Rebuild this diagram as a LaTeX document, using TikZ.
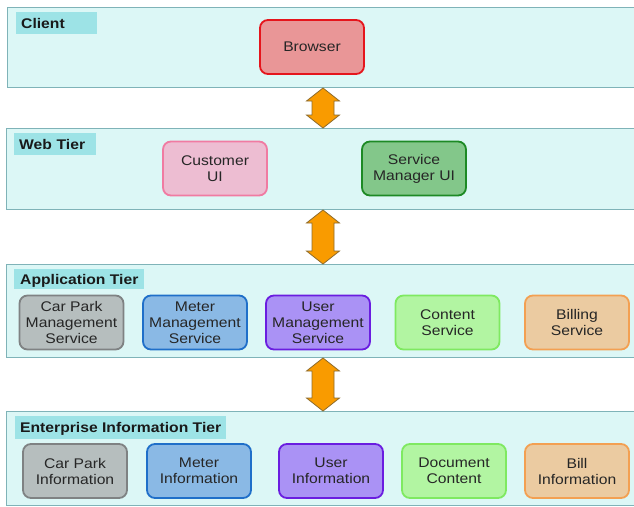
\documentclass[tikz,border=0pt]{standalone}
\usepackage{fontspec}
\setmainfont{Liberation Sans}[FakeStretch=1.12]
\usetikzlibrary{calc}

% tier panels
\definecolor{tierfill}{HTML}{DCF7F6}
\definecolor{tierline}{HTML}{7FB3B8}
\definecolor{labelfill}{HTML}{9DE3E6}
% component colours (fill / border)
\definecolor{redF}{HTML}{E99697}\definecolor{redD}{HTML}{E5151C}
\definecolor{pinkF}{HTML}{EDBDD2}\definecolor{pinkD}{HTML}{F07BA2}
\definecolor{dgrnF}{HTML}{83C78A}\definecolor{dgrnD}{HTML}{1D8A25}
\definecolor{grayF}{HTML}{B6BEBE}\definecolor{grayD}{HTML}{7F8283}
\definecolor{blueF}{HTML}{8AB9E5}\definecolor{blueD}{HTML}{1F6FC9}
\definecolor{purpF}{HTML}{AA92F5}\definecolor{purpD}{HTML}{6A1DE0}
\definecolor{lgrnF}{HTML}{B2F5A2}\definecolor{lgrnD}{HTML}{7FE961}
\definecolor{orngF}{HTML}{EBCBA1}\definecolor{orngD}{HTML}{F3A052}
\definecolor{arrowF}{HTML}{F99B00}\definecolor{arrowD}{HTML}{8E6C2C}

\tikzset{
  x=1pt, y=-1pt,
  tier/.style={draw=tierline, fill=tierfill, line width=1pt, rectangle,
    anchor=north west, inner sep=0pt, minimum width=628.5pt},
  tierlabel/.style={fill=labelfill, anchor=north west, font=\bfseries\fontsize{14}{16}\selectfont,
    text=black!90, minimum height=22pt, inner xsep=5pt,
    text depth=0pt, align=left},
  comp/.style={draw, line width=1.8pt, rounded corners=8pt, minimum width=104pt,
    minimum height=54pt, align=center, inner sep=1pt, text=black!85,
    font=\fontsize{14}{16}\selectfont},
  link/.style={draw=arrowD, fill=arrowF, line width=0.8pt, line join=miter},
}

% double-headed link between the bottom of one tier and the top of the next
\newcommand\tierlink[2]{%
  \path let \p1=(axis |- #1.south), \p2=(axis |- #2.north) in
    [link] (\x1,\y1) -- ++(16.5pt,-13pt) -- ++(-5.5pt,0pt)
      -- (\x1+11pt,\y2+13pt) -- ++(5.5pt,0pt) -- (\x2,\y2)
      -- ++(-16.5pt,13pt) -- ++(5.5pt,0pt)
      -- (\x1-11pt,\y1-13pt) -- ++(-5.5pt,0pt) -- cycle;}

\begin{document}
\begin{tikzpicture}
\useasboundingbox (0,0) rectangle (634,506);
\fill[white] (0,0) rectangle (634,506);
\coordinate (axis) at (323,0);

% tiers
\node[tier, minimum height=80pt] (client) at (7,7) {};
\node[tier, minimum height=81pt] (web) at (6,128) {};
\node[tier, minimum height=93pt] (app) at (6,264) {};
\node[tier, minimum height=94pt] (eis) at (6,411) {};

\node[tierlabel, text width=71pt] (clientlbl) at ($(client.north west)+(9,5)$) {Client};
\node[tierlabel, text width=72pt] (weblbl) at ($(web.north west)+(8,5)$) {Web Tier};
\node[tierlabel, minimum height=20pt, inner xsep=6pt] (applbl) at ($(app.north west)+(8,5)$) {Application Tier};
\node[tierlabel, minimum height=23pt] (eislbl) at ($(eis.north west)+(9,5)$) {Enterprise Information Tier};

% client tier
\node[comp, draw=redD, fill=redF] (browser) at (312,47) {Browser};

% web tier
\node[comp, draw=pinkD, fill=pinkF] (custui) at (215,168.5) {Customer\\UI};
\node[comp, draw=dgrnD, fill=dgrnF] (smui) at (414,168.5) {Service\\Manager UI};

% application tier
\node[comp, draw=grayD, fill=grayF] (cpms) at (71.5,322.5) {Car Park\\Management\\Service};
\node[comp, draw=blueD, fill=blueF] (mms) at (195,322.5) {Meter\\Management\\Service};
\node[comp, draw=purpD, fill=purpF] (ums) at (318,322.5) {User\\Management\\Service};
\node[comp, draw=lgrnD, fill=lgrnF] (cs) at (447.5,322.5) {Content\\Service};
\node[comp, draw=orngD, fill=orngF] (bs) at (577,322.5) {Billing\\Service};

% enterprise information tier
\node[comp, draw=grayD, fill=grayF] (cpi) at (75,471) {Car Park\\Information};
\node[comp, draw=blueD, fill=blueF] (mi) at (199,471) {Meter\\Information};
\node[comp, draw=purpD, fill=purpF] (ui) at (331,471) {User\\Information};
\node[comp, draw=lgrnD, fill=lgrnF] (dc) at (454,471) {Document\\Content};
\node[comp, draw=orngD, fill=orngF] (bi) at (577,471) {Bill\\Information};

% links between tiers
\tierlink{client}{web}
\tierlink{web}{app}
\tierlink{app}{eis}
\end{tikzpicture}
\end{document}
